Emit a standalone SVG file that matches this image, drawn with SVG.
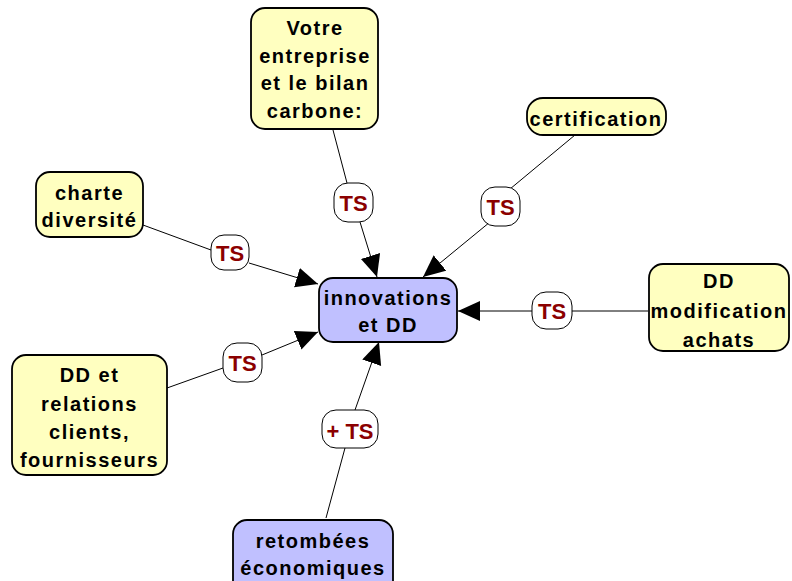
<svg xmlns="http://www.w3.org/2000/svg" width="792" height="581" viewBox="0 0 792 581">
<defs>
<style>
.box{stroke:#000;stroke-width:1.8}
.y{fill:#FFFFC0}
.b{fill:#C0C0FF}
.lbl{fill:#fff;stroke:#000;stroke-width:1}
.t{font-family:"Liberation Sans",Arial,sans-serif;font-weight:bold;font-size:20px;letter-spacing:1.5px;text-anchor:middle;fill:#000}
.ts{font-family:"Liberation Sans",Arial,sans-serif;font-weight:bold;font-size:22px;text-anchor:middle;fill:#8B0000}
.e{stroke:#000;stroke-width:1;fill:none}
</style>
<marker id="arr" markerUnits="userSpaceOnUse" markerWidth="24" markerHeight="22" refX="22" refY="10" orient="auto">
<path d="M0,0 L22,10 L0,20 Z" fill="#000"/>
</marker>
</defs>
<g id="connectors">
<line class="e" x1="333" y1="130" x2="347" y2="183"/>
<line class="e" x1="360" y1="222" x2="377" y2="277" marker-end="url(#arr)"/>
<line class="e" x1="575" y1="135" x2="510" y2="189"/>
<line class="e" x1="490" y1="222" x2="423" y2="277" marker-end="url(#arr)"/>
<line class="e" x1="143" y1="225" x2="211" y2="250"/>
<line class="e" x1="249" y1="263" x2="318" y2="284" marker-end="url(#arr)"/>
<line class="e" x1="167" y1="388" x2="223" y2="368"/>
<line class="e" x1="262" y1="355" x2="318" y2="332" marker-end="url(#arr)"/>
<line class="e" x1="648" y1="311" x2="572" y2="311"/>
<line class="e" x1="532" y1="311" x2="458" y2="311" marker-end="url(#arr)"/>
<line class="e" x1="326" y1="518" x2="345" y2="448"/>
<line class="e" x1="355" y1="410" x2="379" y2="342" marker-end="url(#arr)"/>
</g>
<g id="votre">
<rect class="box y" x="251" y="8" width="127" height="121" rx="14"/>
<text class="t" x="315" y="35">Votre</text>
<text class="t" x="315" y="62.5">entreprise</text>
<text class="t" x="315" y="90">et le bilan</text>
<text class="t" x="315" y="117.5">carbone:</text>
</g>
<g id="certification">
<rect class="box y" x="527" y="98" width="139" height="37" rx="16"/>
<text class="t" x="596" y="126">certification</text>
</g>
<g id="charte">
<rect class="box y" x="36" y="172" width="107" height="65" rx="14"/>
<text class="t" x="89.5" y="200">charte</text>
<text class="t" x="89.5" y="227">diversité</text>
</g>
<g id="innovations">
<rect class="box b" x="319" y="278" width="138" height="64" rx="14"/>
<text class="t" x="388" y="305">innovations</text>
<text class="t" x="388" y="332">et DD</text>
</g>
<g id="ddmodif">
<rect class="box y" x="649" y="264" width="140" height="87" rx="14"/>
<text class="t" x="719" y="288">DD</text>
<text class="t" x="719" y="318">modification</text>
<text class="t" x="719" y="347">achats</text>
</g>
<g id="ddrelations">
<rect class="box y" x="12" y="355" width="155" height="120" rx="14"/>
<text class="t" x="89.5" y="382">DD et</text>
<text class="t" x="89.5" y="411">relations</text>
<text class="t" x="89.5" y="439">clients,</text>
<text class="t" x="89.5" y="467">fournisseurs</text>
</g>
<g id="retombees">
<rect class="box b" x="233" y="520" width="160" height="80" rx="14"/>
<text class="t" x="313" y="548">retombées</text>
<text class="t" x="313" y="575">économiques</text>
</g>
<g id="ts1">
<rect class="lbl" x="334" y="183" width="39" height="39" rx="14"/>
<text class="ts" x="353.5" y="211">TS</text>
</g>
<g id="ts2">
<rect class="lbl" x="481" y="187" width="39" height="39" rx="14"/>
<text class="ts" x="500.5" y="215">TS</text>
</g>
<g id="ts3">
<rect class="lbl" x="211" y="235" width="38" height="35" rx="13"/>
<text class="ts" x="230" y="261">TS</text>
</g>
<g id="ts4">
<rect class="lbl" x="223" y="343" width="39" height="39" rx="14"/>
<text class="ts" x="242.5" y="371">TS</text>
</g>
<g id="ts5">
<rect class="lbl" x="532" y="292" width="40" height="37" rx="14"/>
<text class="ts" x="552" y="319">TS</text>
</g>
<g id="ts6">
<rect class="lbl" x="322" y="410" width="56" height="38" rx="14"/>
<text class="ts" x="350" y="439">+ TS</text>
</g>
</svg>
